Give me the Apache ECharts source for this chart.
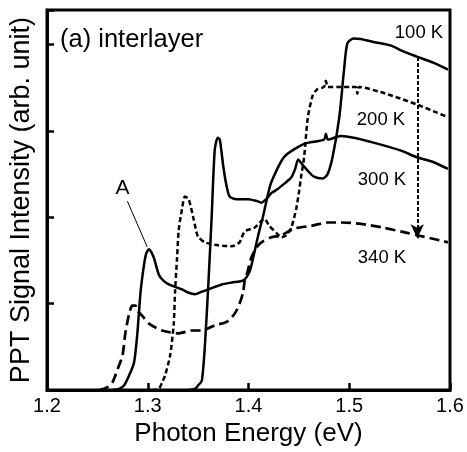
<!DOCTYPE html>
<html>
<head>
<meta charset="utf-8">
<script src="https://cdn.jsdelivr.net/npm/echarts/dist/echarts.min.js"></script>
<style>html,body{margin:0;padding:0;background:#fff;}#chart{width:467px;height:452px;}</style>
</head>
<body>
<div id="chart"></div>
<script>
// ---- data (Photon energy in eV, PPT signal in arbitrary units) ----
var xTicks = [1.2, 1.3, 1.4, 1.5, 1.6];

var energy100 = [1.3406,1.3468,1.3504,1.3537,1.3567,1.3603,1.3635,1.3665,1.3695,1.3715,1.3751,1.3783,1.3813,1.388,1.3997,1.408,1.4128,1.4177,1.4227,1.4293,1.4355,1.4424,1.4463,1.4493,1.4522,1.4588,1.465,1.4736,1.4785,1.4834,1.49,1.4949,1.4982,1.5044,1.5113,1.5241,1.5409,1.5537,1.5672,1.5833,1.598];
var signal100 = [0,0.015,0.06,0.11,0.51,1.26,2.02,2.78,2.92,2.90,2.58,2.36,2.24,2.21,2.21,2.19,2.17,2.21,2.28,2.33,2.39,2.46,2.56,2.67,2.63,2.54,2.47,2.45,2.50,2.695,3.15,3.715,4.017,4.07,4.065,4.03,3.99,3.92,3.86,3.79,3.71];

var energy200 = [1.3044,1.311,1.3143,1.3172,1.3222,1.3258,1.3271,1.3291,1.3307,1.334,1.3369,1.3406,1.3455,1.3488,1.3504,1.3567,1.3701,1.3833,1.3911,1.3961,1.4059,1.4158,1.4207,1.4276,1.4325,1.4374,1.4424,1.4473,1.4502,1.4522,1.4552,1.4588,1.4637,1.468,1.4749,1.4768,1.4788,1.4884,1.5015,1.5064,1.5081,1.5098,1.531,1.5507,1.5685,1.5833,1.598];
var signal200 = [0,0.015,0.09,0.17,0.40,0.77,1.14,1.53,1.85,2.095,2.24,2.21,1.98,1.81,1.77,1.71,1.676,1.665,1.71,1.835,1.88,1.98,1.90,1.82,1.77,1.79,1.88,2.095,2.30,2.47,2.695,3.148,3.41,3.48,3.51,3.58,3.51,3.51,3.51,3.51,3.43,3.51,3.45,3.375,3.30,3.23,3.16];

var energy300 = [1.265,1.2716,1.2768,1.2815,1.2864,1.2897,1.2929,1.2963,1.2986,1.3012,1.3034,1.3061,1.311,1.3153,1.3209,1.334,1.34,1.3468,1.3537,1.3603,1.3734,1.3833,1.3948,1.401,1.4046,1.4096,1.4145,1.4194,1.4227,1.4355,1.4552,1.4749,1.4768,1.4788,1.4916,1.5044,1.5241,1.5507,1.5672,1.5833,1.598];
var signal300 = [0,0.015,0.06,0.17,0.32,0.66,1.14,1.45,1.585,1.63,1.60,1.53,1.336,1.27,1.223,1.166,1.13,1.11,1.14,1.166,1.223,1.246,1.27,1.37,1.53,1.79,2.016,2.27,2.41,2.70,2.85,2.90,2.967,2.90,2.94,2.922,2.865,2.775,2.695,2.64,2.56];

var energy340 = [1.2519,1.2601,1.265,1.27,1.2749,1.2778,1.2815,1.2847,1.2877,1.2897,1.2946,1.3012,1.3143,1.3307,1.3438,1.3537,1.3665,1.3783,1.3862,1.3911,1.3948,1.3961,1.399,1.403,1.408,1.4128,1.4227,1.4325,1.4453,1.4621,1.4785,1.4916,1.5113,1.534,1.5574,1.5685,1.5901,1.598];
var signal340 = [0,0.034,0.09,0.24,0.40,0.66,0.883,0.977,0.977,0.92,0.86,0.77,0.69,0.657,0.69,0.69,0.75,0.79,0.883,1.0,1.14,1.257,1.37,1.54,1.65,1.71,1.77,1.79,1.87,1.90,1.94,1.94,1.925,1.88,1.82,1.79,1.733,1.71];

// annotation anchors (data coordinates)
var arrowFrom = [1.5675, 3.856];
var arrowTo = [1.5675, 1.758];
var pointerFrom = [1.2798, 2.186];
var pointerTo = [1.2995, 1.657];

function zip(xs, ys) { return xs.map(function (x, i) { return [x, ys[i]]; }); }

var FONT = '"Liberation Sans", Arial, Helvetica, sans-serif';
var chart = echarts.init(document.getElementById('chart'), null, {renderer: 'canvas'});

function lineSeries(name, xs, ys, type, width) {
  return {
    name: name, type: 'line', data: zip(xs, ys), showSymbol: false, smooth: 0.25,
    lineStyle: {color: '#000', width: width, type: type, cap: 'butt'},
    silent: true, animation: false, z: 3
  };
}

var s100 = lineSeries('100 K', energy100, signal100, 'solid', 2.5);
var s200 = lineSeries('200 K', energy200, signal200, [5, 3], 2.5);
var s300 = lineSeries('300 K', energy300, signal300, 'solid', 2.5);
var s340 = lineSeries('340 K', energy340, signal340, [10, 5], 2.7);

s100.markLine = {
  silent: true, animation: false,
  symbol: ['none', 'arrow'], symbolSize: [10, 14],
  label: {show: false},
  lineStyle: {color: '#000', width: 2, type: [4, 2]},
  data: [[{coord: arrowFrom}, {coord: arrowTo}]]
};
s300.markLine = {
  silent: true, animation: false,
  symbol: ['none', 'none'],
  label: {show: false},
  lineStyle: {color: '#000', width: 1, type: 'solid'},
  data: [[{coord: pointerFrom}, {coord: pointerTo}]]
};

function txt(x, y, s, size, align) {
  return {type: 'text', x: x, y: y, z: 10, style: {text: s, font: size + 'px ' + FONT, fill: '#000', textAlign: align || 'center', textVerticalAlign: 'middle'}};
}

chart.setOption({
  animation: false,
  grid: {left: 44, right: 17, top: 10, bottom: 54, show: true, borderColor: '#000', borderWidth: 3, backgroundColor: 'transparent'},
  xAxis: {
    type: 'value', min: xTicks[0], max: xTicks[xTicks.length - 1], interval: 0.1,
    axisLine: {lineStyle: {color: '#000', width: 3}},
    axisTick: {inside: true, length: 7, lineStyle: {color: '#000', width: 2.5}},
    axisLabel: {color: '#000', fontSize: 20, fontFamily: FONT, margin: 6, formatter: function (v) { return v.toFixed(1); }},
    splitLine: {show: false},
    name: 'Photon Energy (eV)', nameLocation: 'middle', nameGap: 22,
    nameTextStyle: {color: '#000', fontSize: 26, fontFamily: FONT}
  },
  yAxis: {
    type: 'value', min: 0, max: 4.4, interval: 1,
    axisLine: {lineStyle: {color: '#000', width: 3}},
    axisTick: {inside: true, length: 7, lineStyle: {color: '#000', width: 2.5}},
    axisLabel: {show: false},
    splitLine: {show: false},
    name: 'PPT Signal Intensity (arb. unit)', nameLocation: 'middle', nameGap: 12,
    nameTextStyle: {color: '#000', fontSize: 27, fontFamily: FONT}
  },
  series: [s100, s200, s300, s340],
  graphic: [
    txt(60, 40, '(a) interlayer', 25.5, 'left'),
    txt(419, 33, '100 K', 18.5),
    txt(381, 120, '200 K', 18.5),
    txt(382, 180, '300 K', 18.5),
    txt(382, 257.5, '340 K', 18.5),
    txt(122.5, 188, 'A', 21)
  ]
});
</script>
</body>
</html>
